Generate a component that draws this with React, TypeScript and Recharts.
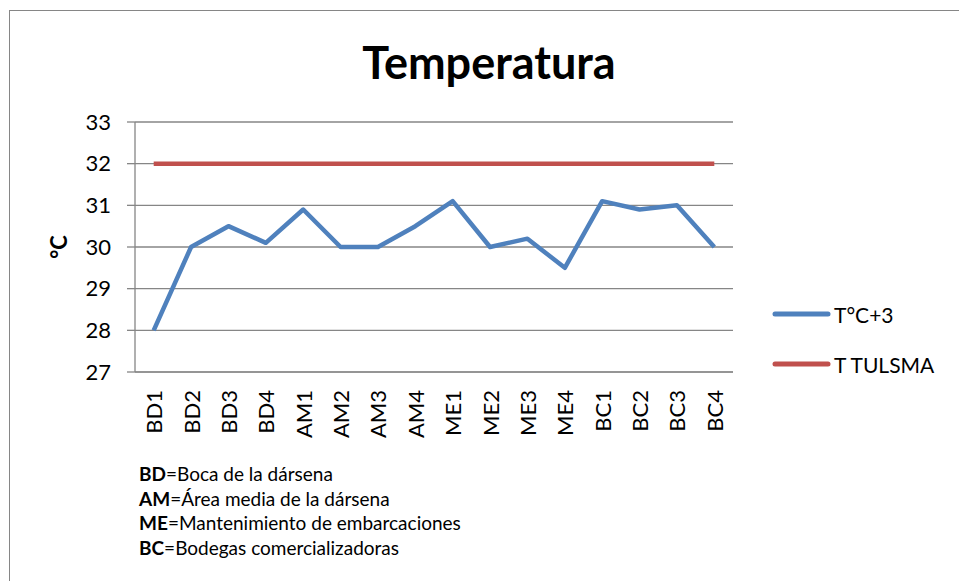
import { CartesianGrid, Line, LineChart, XAxis, YAxis } from "recharts";

const sites = ["BD1", "BD2", "BD3", "BD4", "AM1", "AM2", "AM3", "AM4", "ME1", "ME2", "ME3", "ME4", "BC1", "BC2", "BC3", "BC4"];
const tempPlus3 = [28, 30, 30.5, 30.1, 30.9, 30, 30, 30.5, 31.1, 30, 30.2, 29.5, 31.1, 30.9, 31, 30];
const tulsma = [32, 32, 32, 32, 32, 32, 32, 32, 32, 32, 32, 32, 32, 32, 32, 32];
const yTicks = [27, 28, 29, 30, 31, 32, 33];
const seriesNames = ["T°C+3", "T TULSMA"];
const seriesColors = ["#4F81BD", "#C0504D"];
const notes = [
  ["BD", "Boca de la dársena"],
  ["AM", "Área media de la dársena"],
  ["ME", "Mantenimiento de embarcaciones"],
  ["BC", "Bodegas comercializadoras"],
];

const FONT = "Lato, 'Open Sans', sans-serif";
const AXIS = "#868686";

const data = sites.map((site, i) => ({ site, t: tempPlus3[i], tulsma: tulsma[i] }));

function RotatedTick(props: any) {
  const { x, y, payload } = props;
  return (
    <text
      x={x}
      y={y}
      transform={`rotate(-90 ${x} ${y})`}
      textAnchor="end"
      dominantBaseline="central"
      fontSize={22}
      fontFamily={FONT}
      fill="#000"
    >
      {payload.value}
    </text>
  );
}

export default function App() {
  return (
    <div style={{ position: "absolute", left: 0, top: 0, width: 959, height: 581, overflow: "hidden", background: "#fff" }}>
      <div style={{ position: "absolute", left: 9, top: 10, width: 1000, height: 700, border: `1px solid ${AXIS}` }} />
      <div style={{ position: "absolute", left: 0, top: 35, width: 978, textAlign: "center", fontFamily: FONT, fontWeight: 700, fontSize: 45, lineHeight: "54px" }}>
        Temperatura
      </div>
      <div
        style={{
          position: "absolute",
          left: 58,
          top: 247,
          transform: "translate(-50%, -50%) rotate(-90deg)",
          fontFamily: FONT,
          fontWeight: 700,
          fontSize: 22,
        }}
      >
        °C
      </div>
      <div style={{ position: "absolute", left: 0, top: 0 }}>
        <LineChart width={959} height={581} data={data} margin={{ top: 122, right: 226, bottom: 149, left: 75 }}>
          <CartesianGrid vertical={false} stroke={AXIS} strokeWidth={1.3} />
          <XAxis
            dataKey="site"
            axisLine={{ stroke: AXIS }}
            tickLine={false}
            height={60}
            tick={<RotatedTick />}
            interval={0}
            tickMargin={12}
            padding={{ left: 18.7, right: 18.7 }}
          />
          <YAxis
            domain={[27, 33]}
            ticks={yTicks}
            width={60}
            axisLine={{ stroke: AXIS, strokeWidth: 1.3 }}
            tickLine={{ stroke: AXIS, strokeWidth: 1.3 }}
            tickSize={8}
            tick={{ fill: "#000", fontSize: 22, fontFamily: FONT }}
            tickMargin={16}
          />
          <Line dataKey="t" name={seriesNames[0]} stroke={seriesColors[0]} strokeWidth={4.5} dot={false} isAnimationActive={false} strokeLinejoin="round" />
          <Line dataKey="tulsma" name={seriesNames[1]} stroke={seriesColors[1]} strokeWidth={4.5} dot={false} isAnimationActive={false} />
        </LineChart>
      </div>
      <div style={{ position: "absolute", left: 770, top: 289, fontFamily: FONT, fontSize: 21 }}>
        {seriesNames.map((name, i) => (
          <div key={name} style={{ display: "flex", alignItems: "center", height: 50 }}>
            <svg width={64} height={10}>
              <line x1={5} y1={5} x2={58} y2={5} stroke={seriesColors[i]} strokeWidth={5} strokeLinecap="round" />
            </svg>
            <span>{name}</span>
          </div>
        ))}
      </div>
      <div style={{ position: "absolute", left: 139, top: 462, fontFamily: FONT, fontSize: 19, lineHeight: "24.7px" }}>
        {notes.map(([k, v]) => (
          <div key={k}>
            <b>{k}</b>={v}
          </div>
        ))}
      </div>
    </div>
  );
}
